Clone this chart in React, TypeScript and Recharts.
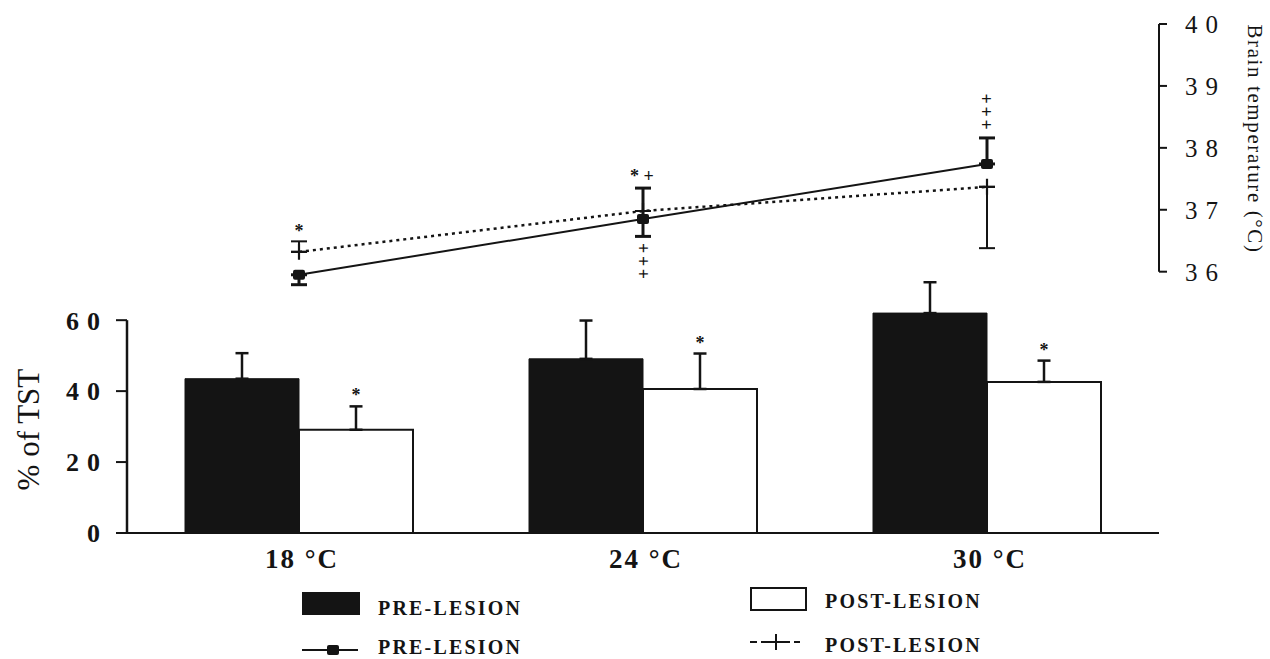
import React from 'react'
import {
  ComposedChart,
  Bar,
  Line,
  XAxis,
  YAxis,
  ErrorBar,
  LabelList,
  ReferenceLine
} from 'recharts'

// ambient temperature groups
const categories = ['18 °C', '24 °C', '30 °C']

// % of TST (bars), mean and SEM (upper side only)
const tstPre = [43.5, 49.1, 62.0]
const tstPreErr = [7.2, 10.8, 8.7]
const tstPost = [29.1, 40.6, 42.6]
const tstPostErr = [6.6, 10.0, 6.0]
const tstPostSig = ['*', '*', '*']

// brain temperature (lines), °C
const tempPre = [35.95, 36.85, 37.74]
const tempPreErrLow = [0.16, 0.28, 0]
const tempPreErrHigh = [0, 0.5, 0.42]
const tempPost = [36.32, 36.98, 37.37]
const tempPostErrLow = [0, 0, 0.99]
const tempPostErrHigh = [0.17, 0, 0]

// significance marks next to the error bars ("+++" marks are stacked vertically)
const tempPreSigAbove = ['', '* +', '+++']
const tempPreSigAboveStacked = [false, false, true]
const tempPreSigBelow = ['', '+++', '']
const tempPreSigBelowStacked = [false, true, false]
const tempPostSigAbove = ['*', '', '']

const leftTicks = [0, 20, 40, 60]
const rightTicks = [36, 37, 38, 39, 40]

const FONT = "'Liberation Serif', 'Times New Roman', serif"
const INK = '#141414'

const W = 1270
const H = 659
const PLOT_TOP = 24
const PLOT_BOTTOM = 533
const PLOT_H = PLOT_BOTTOM - PLOT_TOP
// the two panels share one plot area: bars in the lower band, temperature in the upper one
const TST_MAX = 143.5
const TEMP_MIN = 31.78
const PX_PER_PCT = PLOT_H / TST_MAX
const PX_PER_DEG = PLOT_H / (40 - TEMP_MIN)
const LAST = categories.length - 1
const ROW = 13

const data = categories.map((cat, i) => ({
  cat,
  pre: tstPre[i],
  preErr: [0, tstPreErr[i]],
  post: tstPost[i],
  postErr: [0, tstPostErr[i]],
  tPre: tempPre[i],
  tPreErr: [tempPreErrLow[i], tempPreErrHigh[i]],
  tPost: tempPost[i],
  tPostErr: [tempPostErrLow[i], tempPostErrHigh[i]]
}))

// edge = end of the error bar, dir = -1 above / +1 below
const sigMark = (key: string, x: number, edge: number, dir: number, gap: number, s: string, stacked = false) => {
  if (!s) return null
  const common = {
    key,
    x,
    textAnchor: 'middle' as const,
    fontFamily: FONT,
    fontSize: 18,
    fontWeight: 'bold' as const,
    fill: INK
  }
  if (!stacked) {
    return <text {...common} y={edge + dir * gap} dominantBaseline="central">{s}</text>
  }
  const mid = edge + dir * (gap + ((s.length - 1) * ROW) / 2)
  return (
    <text {...common} y={mid} style={{ writingMode: 'vertical-rl' }} letterSpacing={2.7}>{s}</text>
  )
}

const pos = (p: any) => {
  const vb = p.viewBox || {}
  return {
    x: p.x ?? vb.x,
    y: p.y ?? vb.y,
    width: p.width ?? vb.width ?? 0
  }
}

function BarStar(props: any) {
  const { x, y, width } = pos(props)
  const i = props.index
  const top = y - tstPostErr[i] * PX_PER_PCT
  return sigMark(`bs-${i}`, x + width / 2, top, -1, 11, tstPostSig[i])
}

function PreSig(props: any) {
  const { x, y } = pos(props)
  const i = props.index
  const top = y - tempPreErrHigh[i] * PX_PER_DEG
  const bottom = y + tempPreErrLow[i] * PX_PER_DEG
  return (
    <g>
      {sigMark(`pa-${i}`, x - 1, top, -1, 12, tempPreSigAbove[i], tempPreSigAboveStacked[i])}
      {sigMark(`pb-${i}`, x, bottom, 1, 13, tempPreSigBelow[i], tempPreSigBelowStacked[i])}
    </g>
  )
}

function PostSig(props: any) {
  const { x, y } = pos(props)
  const i = props.index
  const top = y - tempPostErrHigh[i] * PX_PER_DEG
  return <g>{sigMark(`qa-${i}`, x, top, -1, 10, tempPostSigAbove[i])}</g>
}

const SquareDot = (p: any) => (
  <rect key={`sq-${p.index}`} x={p.cx - 6} y={p.cy - 5} width={12} height={10} rx={2} fill={INK} />
)

const PlusDot = (p: any) => (
  <path key={`pl-${p.index}`} d={`M${p.cx - 8},${p.cy}H${p.cx + 8}M${p.cx},${p.cy - 8}V${p.cy + 8}`}
    stroke={INK} strokeWidth={2.2} fill="none" />
)

const LeftTick = ({ x, y, payload }: any) => (
  <text x={x} y={y} dy="0.36em" textAnchor="end" fontFamily={FONT} fontSize={26}
    fontWeight="bold" letterSpacing={8} fill={INK}>{payload.value}</text>
)

const RightTick = ({ x, y, payload }: any) => (
  <text x={x} y={y} dy="0.36em" textAnchor="start" fontFamily={FONT} fontSize={25}
    letterSpacing={8} fill={INK}>{payload.value}</text>
)

const CatTick = ({ x, y, payload }: any) => (
  <text x={x + 3} y={y + 35} textAnchor="middle" fontFamily={FONT} fontSize={27}
    fontWeight="bold" letterSpacing={2} fill={INK}>{payload.value}</text>
)

const leftLabel = (p: any) => {
  const vb = p.viewBox
  const cy = vb.y + vb.height - 30 * PX_PER_PCT
  return (
    <text transform={`translate(28, ${cy + 3}) rotate(-90)`} textAnchor="middle" dominantBaseline="central"
      fontFamily={FONT} fontSize={31} fill={INK}>% of TST</text>
  )
}

const rightLabel = (p: any) => {
  const vb = p.viewBox
  return (
    <text transform={`translate(1255, ${vb.y + 115}) rotate(90)`} textAnchor="middle" dominantBaseline="central"
      fontFamily={FONT} fontSize={21} letterSpacing={1.6} fill={INK}>Brain temperature (°C)</text>
  )
}

const legendText = { fontFamily: FONT, fontSize: 20, fontWeight: 'bold' as const, letterSpacing: 2.2, fill: INK }

function LegendBlock() {
  return (
    <svg width={W} height={H - 580} style={{ position: 'absolute', left: 0, top: 580 }}>
      <rect x={302} y={12} width={58} height={23} fill={INK} />
      <text x={378} y={35} {...legendText}>PRE-LESION</text>
      <line x1={302} y1={70} x2={358} y2={70} stroke={INK} strokeWidth={2} />
      <rect x={327} y={65} width={12} height={10} rx={2} fill={INK} />
      <text x={378} y={74} {...legendText}>PRE-LESION</text>
      <rect x={751} y={8} width={55} height={22} fill="#fff" stroke={INK} strokeWidth={2} />
      <text x={825} y={28} {...legendText}>POST-LESION</text>
      <line x1={750} y1={62} x2={800} y2={62} stroke={INK} strokeWidth={2} strokeDasharray="7 4" />
      <path d="M768,62H784M776,54V70" stroke={INK} strokeWidth={2} />
      <text x={825} y={72} {...legendText}>POST-LESION</text>
    </svg>
  )
}

export default function App() {
  return (
    <div style={{ position: 'absolute', left: 0, top: 0, width: W, height: H, background: '#fff' }}>
      <ComposedChart width={W} height={H} data={data}
        margin={{ top: PLOT_TOP, right: 0, bottom: 0, left: 0 }}
        barGap={0} barSize={114}>
        <XAxis dataKey="cat" height={H - PLOT_BOTTOM} tickLine={false} tickSize={0} tickMargin={0}
          axisLine={{ stroke: INK, strokeWidth: 2 }} tick={<CatTick />} />
        {/* helper axis spanning the plot edges, used for the partial axis lines */}
        <XAxis xAxisId="n" type="number" domain={[0, LAST]} allowDataOverflow hide />
        <YAxis yAxisId="left" width={127} domain={[0, TST_MAX]} allowDataOverflow ticks={leftTicks}
          axisLine={false} tickLine={{ stroke: INK, strokeWidth: 2 }} tickSize={11} tickMargin={8}
          tick={<LeftTick />} label={leftLabel} />
        <YAxis yAxisId="right" orientation="right" width={111} domain={[TEMP_MIN, 40]} allowDataOverflow
          ticks={rightTicks} axisLine={false} tickLine={{ stroke: INK, strokeWidth: 2 }} tickSize={8}
          tickMargin={18} tick={<RightTick />} label={rightLabel} />

        <Bar yAxisId="left" dataKey="pre" name="PRE-LESION" fill={INK} stroke={INK} isAnimationActive={false}>
          <ErrorBar dataKey="preErr" direction="y" width={6.5} stroke={INK} strokeWidth={2.5} />
        </Bar>
        <Bar yAxisId="left" dataKey="post" name="POST-LESION" fill="#fff" stroke={INK} strokeWidth={2}
          isAnimationActive={false}>
          <ErrorBar dataKey="postErr" direction="y" width={6.5} stroke={INK} strokeWidth={2.5} />
          <LabelList dataKey="post" content={BarStar} />
        </Bar>

        <Line yAxisId="right" dataKey="tPost" name="POST-LESION" stroke={INK} strokeWidth={2.5}
          strokeDasharray="3 4" dot={PlusDot} activeDot={false} isAnimationActive={false}>
          <ErrorBar dataKey="tPostErr" direction="y" width={8} stroke={INK} strokeWidth={2} />
          <LabelList dataKey="tPost" content={PostSig} />
        </Line>
        <Line yAxisId="right" dataKey="tPre" name="PRE-LESION" stroke={INK} strokeWidth={2}
          dot={SquareDot} activeDot={false} isAnimationActive={false}>
          <ErrorBar dataKey="tPreErr" direction="y" width={8} stroke={INK} strokeWidth={3} />
          <LabelList dataKey="tPre" content={PreSig} />
        </Line>

        <ReferenceLine xAxisId="n" yAxisId="left" segment={[{ x: 0, y: 0 }, { x: 0, y: 60 }]}
          stroke={INK} strokeWidth={2.5} ifOverflow="visible" />
        <ReferenceLine xAxisId="n" yAxisId="right" segment={[{ x: LAST, y: 36 }, { x: LAST, y: 40 }]}
          stroke={INK} strokeWidth={2} ifOverflow="visible" />
      </ComposedChart>
      <LegendBlock />
    </div>
  )
}
